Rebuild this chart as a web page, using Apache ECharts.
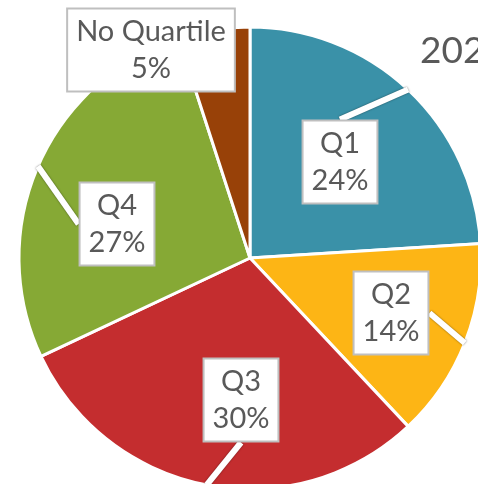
<!DOCTYPE html>
<html>
<head>
<meta charset="utf-8">
<script src="https://cdn.jsdelivr.net/npm/echarts@6/dist/echarts.min.js"></script>
<style>
  html, body { margin: 0; padding: 0; background: #fff; }
  #chart { width: 478px; height: 484px; }
</style>
</head>
<body>
<div id="chart"></div>
<script>
// 数据
var categories = ["Q1", "Q2", "Q3", "Q4", "No Quartile"];
var shares = [24, 14, 30, 27, 5];
var sliceColors = ["#3A91A8", "#FDB515", "#C42D2F", "#86A935", "#984108"];
// callout box centres (layout only)
var calloutPos = [
  [340, 162],
  [391, 313],
  [241, 400],
  [117, 224],
  [151, 50]
];

var pieData = categories.map(function (name, i) {
  var item = { name: name, value: shares[i], itemStyle: { color: sliceColors[i] } };
  // No Quartile 的尾巴被框遮住
  if (name == "No Quartile") item.labelLine = { show: false };
  return item;
});

var chart = echarts.init(document.getElementById("chart"));
chart.setOption({
  animation: false,
  title: {
    text: "2020",
    left: 415,
    top: 28,
    textStyle: {
      fontFamily: "Lato",
      fontWeight: "normal",
      fontSize: 37,
      color: "#595959",
    },
  },
  series: [
    {
      type: "pie",
      center: [250, 258],
      radius: 231,
      startAngle: 90,
      clockwise: true,
      avoidLabelOverlap: false,
      data: pieData,
      itemStyle: {
        borderColor: "#fff",
        borderWidth: 3,
      },
      label: {
        show: true,
        position: "outside",
        formatter: "{b}\n{c}%",
        fontFamily: "Lato",
        fontSize: 29,
        lineHeight: 37,
        color: "#595959",
        align: "center",
        backgroundColor: "#fff",
        borderColor: "#BFBFBF",
        borderWidth: 2,
        padding: [4, 8, 3, 8],
      },
      // 气泡尾巴：白线 + 灰色阴影
      labelLine: {
        show: true,
        showAbove: true,
        length: 0,
        length2: 0,
        lineStyle: {
          color: "#fff",
          width: 6,
          shadowColor: "rgba(0,0,0,0.5)",
          shadowBlur: 2,
        },
      },
      labelLayout: function (params) {
        var p = calloutPos[params.dataIndex];
        return {
          x: p[0],
          y: p[1],
          align: "center",
          verticalAlign: "middle",
        };
      },
    },
  ],
});
</script>
</body>
</html>
